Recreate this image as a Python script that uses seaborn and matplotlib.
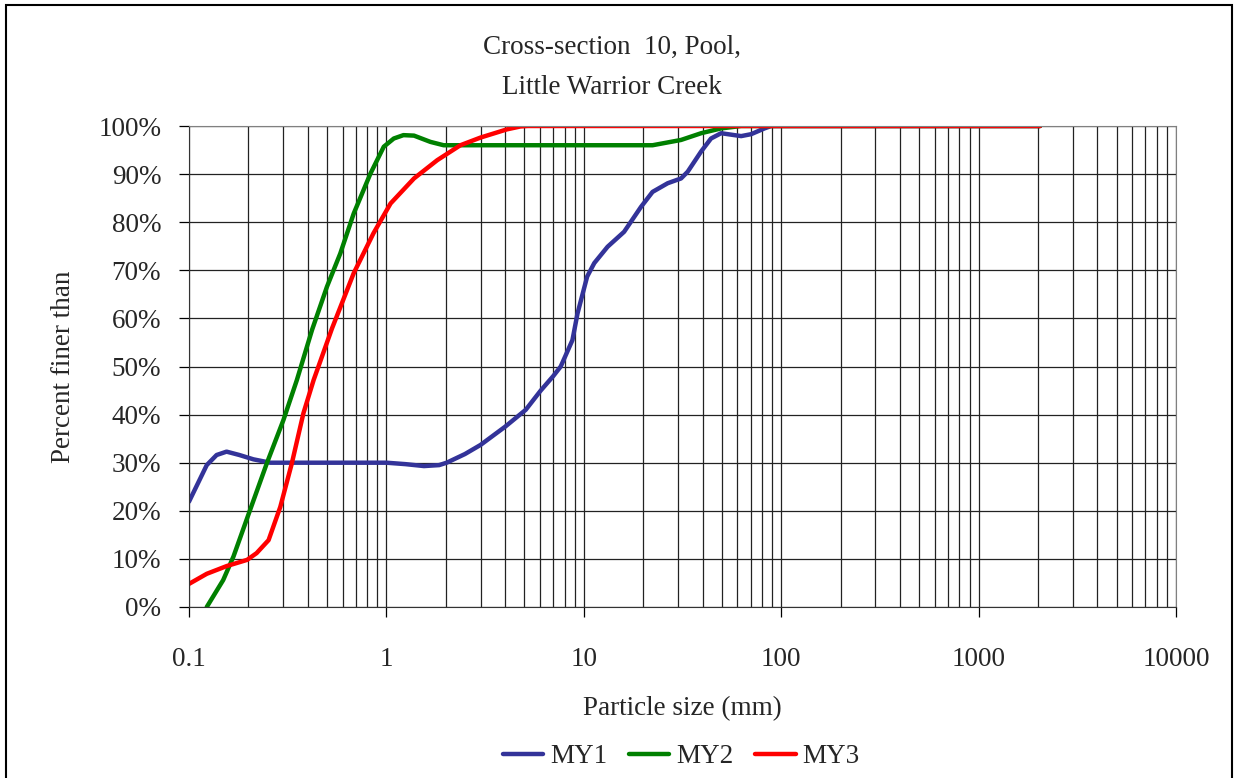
import seaborn as sns
import pandas as pd
import matplotlib.pyplot as plt
from matplotlib.patches import Rectangle
from matplotlib.ticker import LogLocator, FixedLocator, FuncFormatter, NullFormatter

# data (particle size in mm, percent finer than)
my1_size = [0.1, 0.123, 0.138, 0.155, 0.18, 0.212, 0.258, 0.4, 0.7, 1.0, 1.25, 1.55, 1.85, 2.02, 2.5, 3.0,
            4.0, 5.08, 6.05, 7.0, 7.64, 8.76, 9.29, 10.4, 11.3, 13.2, 16.0, 19.5, 22.3, 26.6, 31.1, 33.6,
            39.3, 44.1, 49.6, 62.7, 70.4, 82.3, 89.0, 2048]
my1_pct = [21.9, 29.5, 31.6, 32.3, 31.6, 30.7, 30.0, 30.0, 30.0, 30.0, 29.7, 29.3, 29.5, 30.0, 31.8, 33.7,
           37.5, 41.0, 45.0, 48.0, 50.0, 55.5, 61.0, 68.7, 71.5, 74.9, 78.0, 83.2, 86.3, 88.1, 89.1, 90.5,
           94.7, 97.4, 98.5, 97.9, 98.3, 99.5, 100, 100]

my2_size = [0.123, 0.149, 0.168, 0.204, 0.248, 0.301, 0.352, 0.42, 0.5, 0.584, 0.683, 0.83, 0.97, 1.09,
            1.22, 1.38, 1.67, 1.95, 22.3, 31.1, 39.3, 49.6, 62.7, 2048]
my2_pct = [0, 5.6, 10.5, 20.2, 29.9, 38.9, 47.2, 57.6, 66.6, 73.5, 81.8, 90.1, 95.7, 97.4,
           98.1, 98.0, 96.7, 96.0, 96.0, 97.1, 98.5, 99.5, 100, 100]

my3_size = [0.1, 0.123, 0.155, 0.197, 0.22, 0.253, 0.29, 0.332, 0.38, 0.428, 0.53, 0.683, 0.86, 1.05,
            1.38, 1.81, 2.37, 3.0, 4.08, 4.77, 5.2, 2048]
my3_pct = [4.8, 6.9, 8.5, 9.8, 11.2, 13.9, 20.8, 29.9, 40.3, 47.2, 57.9, 69.4, 77.7, 83.9,
           89.1, 92.9, 96.0, 97.6, 99.3, 99.9, 100, 100]

series_names = ['MY1', 'MY2', 'MY3']
series_colors = ['#333399', '#008000', '#FF0000']
x_ticks = [0.1, 1, 10, 100, 1000, 10000]
y_ticks = [0, 10, 20, 30, 40, 50, 60, 70, 80, 90, 100]

df = pd.concat([
    pd.DataFrame({'size': my1_size, 'pct': my1_pct, 'series': 'MY1'}),
    pd.DataFrame({'size': my2_size, 'pct': my2_pct, 'series': 'MY2'}),
    pd.DataFrame({'size': my3_size, 'pct': my3_pct, 'series': 'MY3'}),
])

sns.set_style('white')
plt.rcParams['font.family'] = ['Liberation Serif', 'DejaVu Serif']
fs = 19.5

fig = plt.figure(figsize=(12.36, 7.78), dpi=100)
ax = fig.add_axes([189 / 1236, 1 - 607 / 778, (1176 - 189) / 1236, (607 - 126) / 778])

sns.lineplot(data=df, x='size', y='pct', hue='series', palette=dict(zip(series_names, series_colors)),
             estimator=None, sort=False, linewidth=3.2, ax=ax)

ax.set_xscale('log')
ax.set_xlim(0.1, 10000)
ax.set_ylim(0, 100)

# grid: major + minor on x, major on y
ax.xaxis.set_major_locator(FixedLocator(x_ticks))
ax.xaxis.set_minor_locator(LogLocator(base=10, subs=range(2, 10), numticks=50))
ax.xaxis.set_major_formatter(FuncFormatter(lambda v, p: ('%g' % v)))
ax.xaxis.set_minor_formatter(NullFormatter())
ax.yaxis.set_major_locator(FixedLocator(y_ticks))
ax.yaxis.set_major_formatter(FuncFormatter(lambda v, p: '%d%%' % v))
ax.grid(True, which='major', axis='both', color='#222222', linewidth=0.9)
ax.grid(True, which='minor', axis='x', color='#222222', linewidth=0.9)
ax.set_axisbelow(True)

ax.tick_params(axis='x', which='major', direction='out', length=7, width=0.9, pad=22,
               labelsize=fs, bottom=True, color='black')
ax.tick_params(axis='x', which='minor', length=0, bottom=False)
ax.tick_params(axis='y', which='major', direction='out', length=7, width=0.9, pad=13,
               labelsize=fs, left=True, color='black')

for s in ['top', 'right']:
    ax.spines[s].set_color('#808080')
for s in ['left', 'bottom']:
    ax.spines[s].set_color('#333333')

ax.set_xlabel('Particle size (mm)', fontsize=fs, labelpad=17)
ax.set_ylabel('Percent finer than', fontsize=fs, labelpad=16)

fig.text(0.495, 0.913, 'Cross-section  10, Pool,\nLittle Warrior Creek', ha='center', va='center',
         fontsize=fs, linespacing=1.8)

handles, labels = ax.get_legend_handles_labels()
ax.get_legend().remove()
fig.legend(handles, labels, loc='center', bbox_to_anchor=(0.551, 0.027), ncol=3, frameon=False,
           fontsize=fs, handlelength=1.5, handletextpad=0.25, columnspacing=0.8)

# chart area border
fig.patches.append(Rectangle((0.005, -0.02), 0.992, 1.0136, transform=fig.transFigure,
                             fill=False, edgecolor='black', linewidth=1.5))

fig.savefig('out.png', dpi=100)
